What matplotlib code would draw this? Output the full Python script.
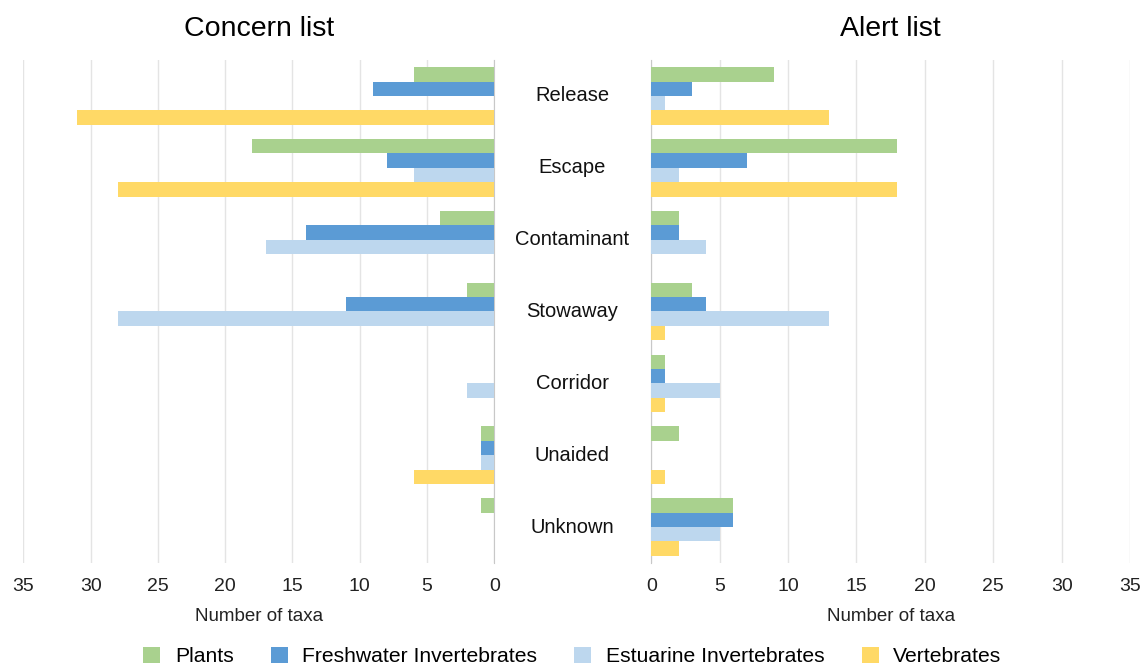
import matplotlib
matplotlib.use("Agg")
import matplotlib.pyplot as plt
import matplotlib.transforms as mtransforms
import numpy as np

plt.rcParams['font.family'] = ['Liberation Sans', 'DejaVu Sans']

categories = ["Release", "Escape", "Contaminant", "Stowaway", "Corridor", "Unaided", "Unknown"]
series = ["Plants", "Freshwater Invertebrates", "Estuarine Invertebrates", "Vertebrates"]
colors = ["#A9D18E", "#5B9BD5", "#BDD7EE", "#FFD966"]

# Concern list
concern_plants = [6, 18, 4, 2, 0, 1, 1]
concern_fresh = [9, 8, 14, 11, 0, 1, 0]
concern_estuar = [0, 6, 17, 28, 2, 1, 0]
concern_vert = [31, 28, 0, 0, 0, 6, 0]

# Alert list
alert_plants = [9, 18, 2, 3, 1, 2, 6]
alert_fresh = [3, 7, 2, 4, 1, 0, 6]
alert_estuar = [1, 2, 4, 13, 5, 0, 5]
alert_vert = [13, 18, 0, 1, 1, 1, 2]

concern = [concern_plants, concern_fresh, concern_estuar, concern_vert]
alert = [alert_plants, alert_fresh, alert_estuar, alert_vert]

fig = plt.figure(figsize=(11.45, 6.65), dpi=100)
ax_l = fig.add_axes([0.0204, 0.1534, 0.4113, 0.7564])
ax_r = fig.add_axes([0.5688, 0.1534, 0.4181, 0.7564])

y = np.arange(len(categories))
h = 0.2
offsets = [-1.5 * h, -0.5 * h, 0.5 * h, 1.5 * h]

for ax, data in [(ax_l, concern), (ax_r, alert)]:
    for vals, off, c, name in zip(data, offsets, colors, series):
        ax.barh(y + off, vals, height=h, color=c, label=name, zorder=3)
    ax.set_ylim(len(categories) - 0.5, -0.5)
    ax.set_xlim(0, 35)
    ax.set_xticks(range(0, 36, 5))
    ax.set_yticks([])
    ax.grid(axis='x', color='#e4e4e4', linewidth=1, zorder=0)
    for s in ax.spines.values():
        s.set_visible(False)
    ax.tick_params(axis='x', length=0, pad=11, labelsize=14, labelcolor='#222222')
    ax.set_xlabel("Number of taxa", fontsize=13.5, labelpad=9, color='#222222')

ax_l.invert_xaxis()
ax_l.spines['right'].set_visible(True)
ax_l.spines['right'].set_color('#c8c8c8')
ax_r.spines['left'].set_visible(True)
ax_r.spines['left'].set_color('#c8c8c8')

ax_l.set_title("Concern list", fontsize=20.5, pad=17)
ax_r.set_title("Alert list", fontsize=20.5, pad=17)

trans = mtransforms.blended_transform_factory(fig.transFigure, ax_r.transData)
for i, cat in enumerate(categories):
    fig.text(0.4996, i, cat, transform=trans, ha='center', va='center', fontsize=14.5, color='#111111')

handles, labels = ax_l.get_legend_handles_labels()
fig.legend(handles, labels, loc='lower center', bbox_to_anchor=(0.5, -0.03), ncol=4,
           frameon=False, fontsize=15.2, handlelength=0.8, handleheight=0.8,
           columnspacing=1.75, handletextpad=0.7)

fig.savefig("out.png", dpi=100)
